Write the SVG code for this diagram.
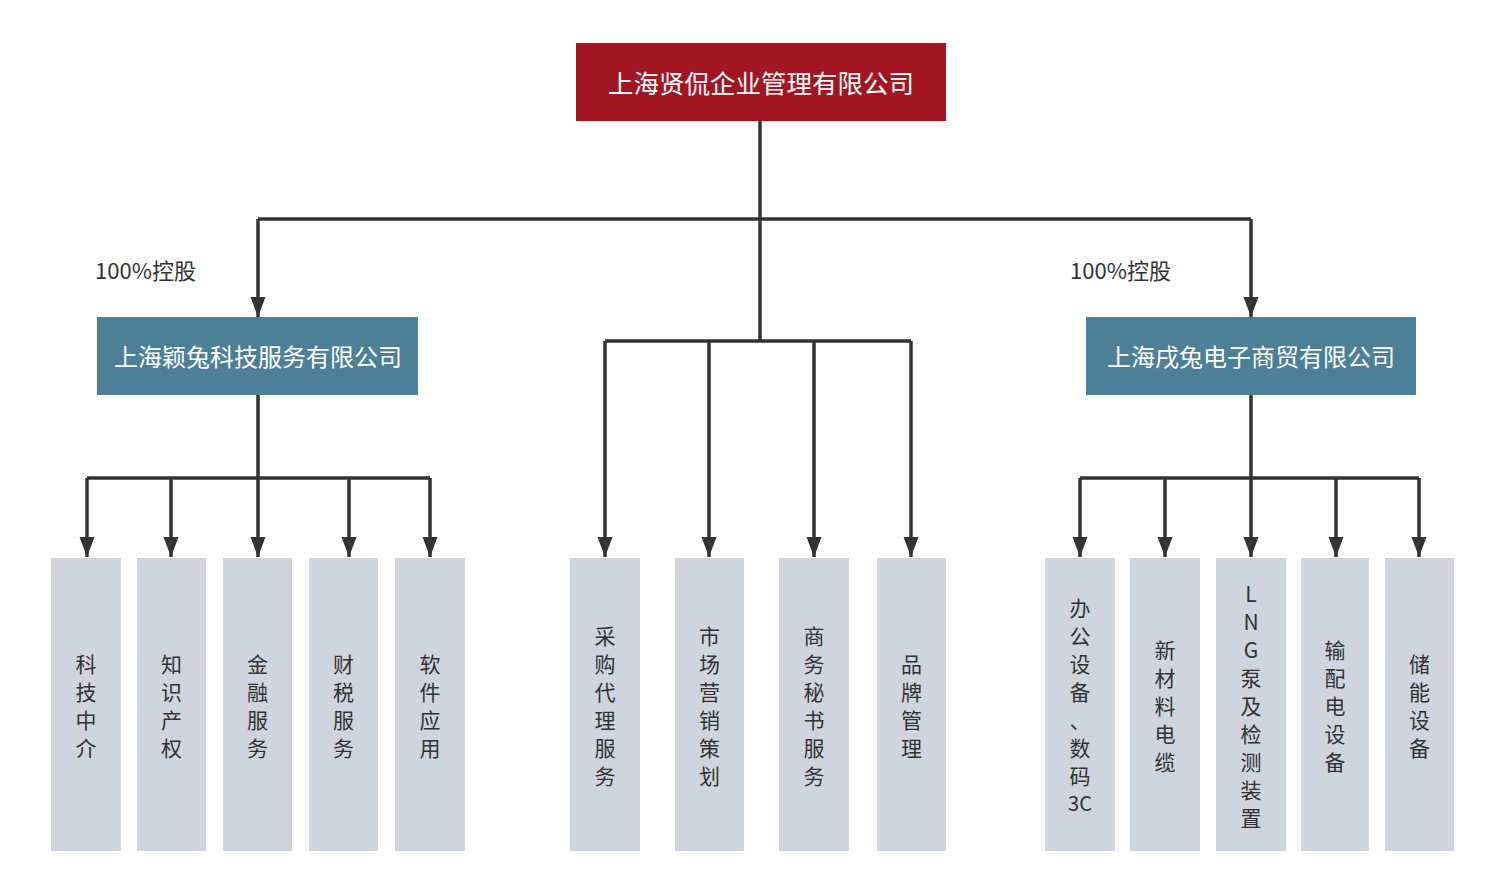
<svg xmlns="http://www.w3.org/2000/svg" width="1497" height="894" viewBox="0 0 1497 894">
<style>
.ln{fill:none;stroke:#333;stroke-width:3.5}
.arr{fill:none;stroke:#333;stroke-width:3.5;marker-end:url(#ah)}
.top{fill:#A21623}
.mid{fill:#4D7F96}
.leaf{fill:#CFD4DE}
.wt{font-family:"Microsoft YaHei","Noto Sans CJK SC",sans-serif;fill:#fff;text-anchor:middle;dominant-baseline:central}
.lt{font-family:"Microsoft YaHei","Noto Sans CJK SC",sans-serif;fill:#333;font-size:21px;text-anchor:middle;dominant-baseline:central}
.lab{font-family:"Microsoft YaHei","Noto Sans CJK SC",sans-serif;fill:#333;font-size:22px}
</style>
<defs>
<marker id="ah" markerUnits="userSpaceOnUse" markerWidth="22" markerHeight="16" refX="20" refY="8" orient="auto" viewBox="0 0 22 16">
<path d="M0,0.5 L20,8 L0,15.5 z" fill="#333"/>
</marker>
</defs>
<rect width="1497" height="894" fill="#fff"/>
<g id="connectors">
<path class="ln" d="M760,121 V341"/>
<path class="ln" d="M258,219 H1251"/>
<path class="arr" d="M258,219 V317"/>
<path class="arr" d="M1251,219 V317"/>
<path class="ln" d="M605,341 H911"/>
<path class="arr" d="M605,341 V557"/>
<path class="arr" d="M709,341 V557"/>
<path class="arr" d="M814,341 V557"/>
<path class="arr" d="M911,341 V557"/>
<path class="ln" d="M258,395 V478 M87,478 H430"/>
<path class="arr" d="M87,478 V557"/>
<path class="arr" d="M171,478 V557"/>
<path class="arr" d="M258,478 V557"/>
<path class="arr" d="M349,478 V557"/>
<path class="arr" d="M430,478 V557"/>
<path class="ln" d="M1251,395 V478 M1080,478 H1419"/>
<path class="arr" d="M1080,478 V557"/>
<path class="arr" d="M1165,478 V557"/>
<path class="arr" d="M1251,478 V557"/>
<path class="arr" d="M1336,478 V557"/>
<path class="arr" d="M1419,478 V557"/>
</g>
<g id="root"><rect class="top" x="576" y="43" width="370" height="78"/><text class="wt" x="761" y="81" font-size="25.5">上海贤侃企业管理有限公司</text></g>
<g id="sub1"><rect class="mid" x="97" y="317" width="321" height="78"/><text class="wt" x="258" y="355" font-size="24">上海颖兔科技服务有限公司</text></g>
<g id="sub2"><rect class="mid" x="1086" y="317" width="330" height="78"/><text class="wt" x="1251" y="355" font-size="24">上海戌兔电子商贸有限公司</text></g>
<g id="label1"><text class="lab" x="95" y="279">100%控股</text></g>
<g id="label2"><text class="lab" x="1070" y="279">100%控股</text></g>
<g id="l1"><rect class="leaf" x="51" y="558" width="70" height="293"/><text class="lt"><tspan x="86" y="663">科</tspan><tspan x="86" y="691">技</tspan><tspan x="86" y="719">中</tspan><tspan x="86" y="747">介</tspan></text></g>
<g id="l2"><rect class="leaf" x="137" y="558" width="69" height="293"/><text class="lt"><tspan x="171.5" y="663">知</tspan><tspan x="171.5" y="691">识</tspan><tspan x="171.5" y="719">产</tspan><tspan x="171.5" y="747">权</tspan></text></g>
<g id="l3"><rect class="leaf" x="223" y="558" width="69" height="293"/><text class="lt"><tspan x="257.5" y="663">金</tspan><tspan x="257.5" y="691">融</tspan><tspan x="257.5" y="719">服</tspan><tspan x="257.5" y="747">务</tspan></text></g>
<g id="l4"><rect class="leaf" x="309" y="558" width="69" height="293"/><text class="lt"><tspan x="343.5" y="663">财</tspan><tspan x="343.5" y="691">税</tspan><tspan x="343.5" y="719">服</tspan><tspan x="343.5" y="747">务</tspan></text></g>
<g id="l5"><rect class="leaf" x="395" y="558" width="70" height="293"/><text class="lt"><tspan x="430" y="663">软</tspan><tspan x="430" y="691">件</tspan><tspan x="430" y="719">应</tspan><tspan x="430" y="747">用</tspan></text></g>
<g id="c1"><rect class="leaf" x="570" y="558" width="70" height="293"/><text class="lt"><tspan x="605" y="635">采</tspan><tspan x="605" y="663">购</tspan><tspan x="605" y="691">代</tspan><tspan x="605" y="719">理</tspan><tspan x="605" y="747">服</tspan><tspan x="605" y="775">务</tspan></text></g>
<g id="c2"><rect class="leaf" x="675" y="558" width="69" height="293"/><text class="lt"><tspan x="709.5" y="635">市</tspan><tspan x="709.5" y="663">场</tspan><tspan x="709.5" y="691">营</tspan><tspan x="709.5" y="719">销</tspan><tspan x="709.5" y="747">策</tspan><tspan x="709.5" y="775">划</tspan></text></g>
<g id="c3"><rect class="leaf" x="779" y="558" width="70" height="293"/><text class="lt"><tspan x="814" y="635">商</tspan><tspan x="814" y="663">务</tspan><tspan x="814" y="691">秘</tspan><tspan x="814" y="719">书</tspan><tspan x="814" y="747">服</tspan><tspan x="814" y="775">务</tspan></text></g>
<g id="c4"><rect class="leaf" x="877" y="558" width="69" height="293"/><text class="lt"><tspan x="911.5" y="663">品</tspan><tspan x="911.5" y="691">牌</tspan><tspan x="911.5" y="719">管</tspan><tspan x="911.5" y="747">理</tspan></text></g>
<g id="r1"><rect class="leaf" x="1045" y="558" width="70" height="293"/><text class="lt"><tspan x="1080" y="607">办</tspan><tspan x="1080" y="635">公</tspan><tspan x="1080" y="663">设</tspan><tspan x="1080" y="691">备</tspan><tspan x="1080" y="719">、</tspan><tspan x="1080" y="747">数</tspan><tspan x="1080" y="775">码</tspan><tspan x="1080" y="802" font-size="20">3C</tspan></text></g>
<g id="r2"><rect class="leaf" x="1130" y="558" width="70" height="293"/><text class="lt"><tspan x="1165" y="649">新</tspan><tspan x="1165" y="677">材</tspan><tspan x="1165" y="705">料</tspan><tspan x="1165" y="733">电</tspan><tspan x="1165" y="761">缆</tspan></text></g>
<g id="r3"><rect class="leaf" x="1216" y="558" width="70" height="293"/><text class="lt"><tspan x="1251" y="593">L</tspan><tspan x="1251" y="621">N</tspan><tspan x="1251" y="649">G</tspan><tspan x="1251" y="677">泵</tspan><tspan x="1251" y="705">及</tspan><tspan x="1251" y="733">检</tspan><tspan x="1251" y="761">测</tspan><tspan x="1251" y="789">装</tspan><tspan x="1251" y="817">置</tspan></text></g>
<g id="r4"><rect class="leaf" x="1301" y="558" width="68" height="293"/><text class="lt"><tspan x="1335" y="649">输</tspan><tspan x="1335" y="677">配</tspan><tspan x="1335" y="705">电</tspan><tspan x="1335" y="733">设</tspan><tspan x="1335" y="761">备</tspan></text></g>
<g id="r5"><rect class="leaf" x="1385" y="558" width="69" height="293"/><text class="lt"><tspan x="1419.5" y="663">储</tspan><tspan x="1419.5" y="691">能</tspan><tspan x="1419.5" y="719">设</tspan><tspan x="1419.5" y="747">备</tspan></text></g>
</svg>
